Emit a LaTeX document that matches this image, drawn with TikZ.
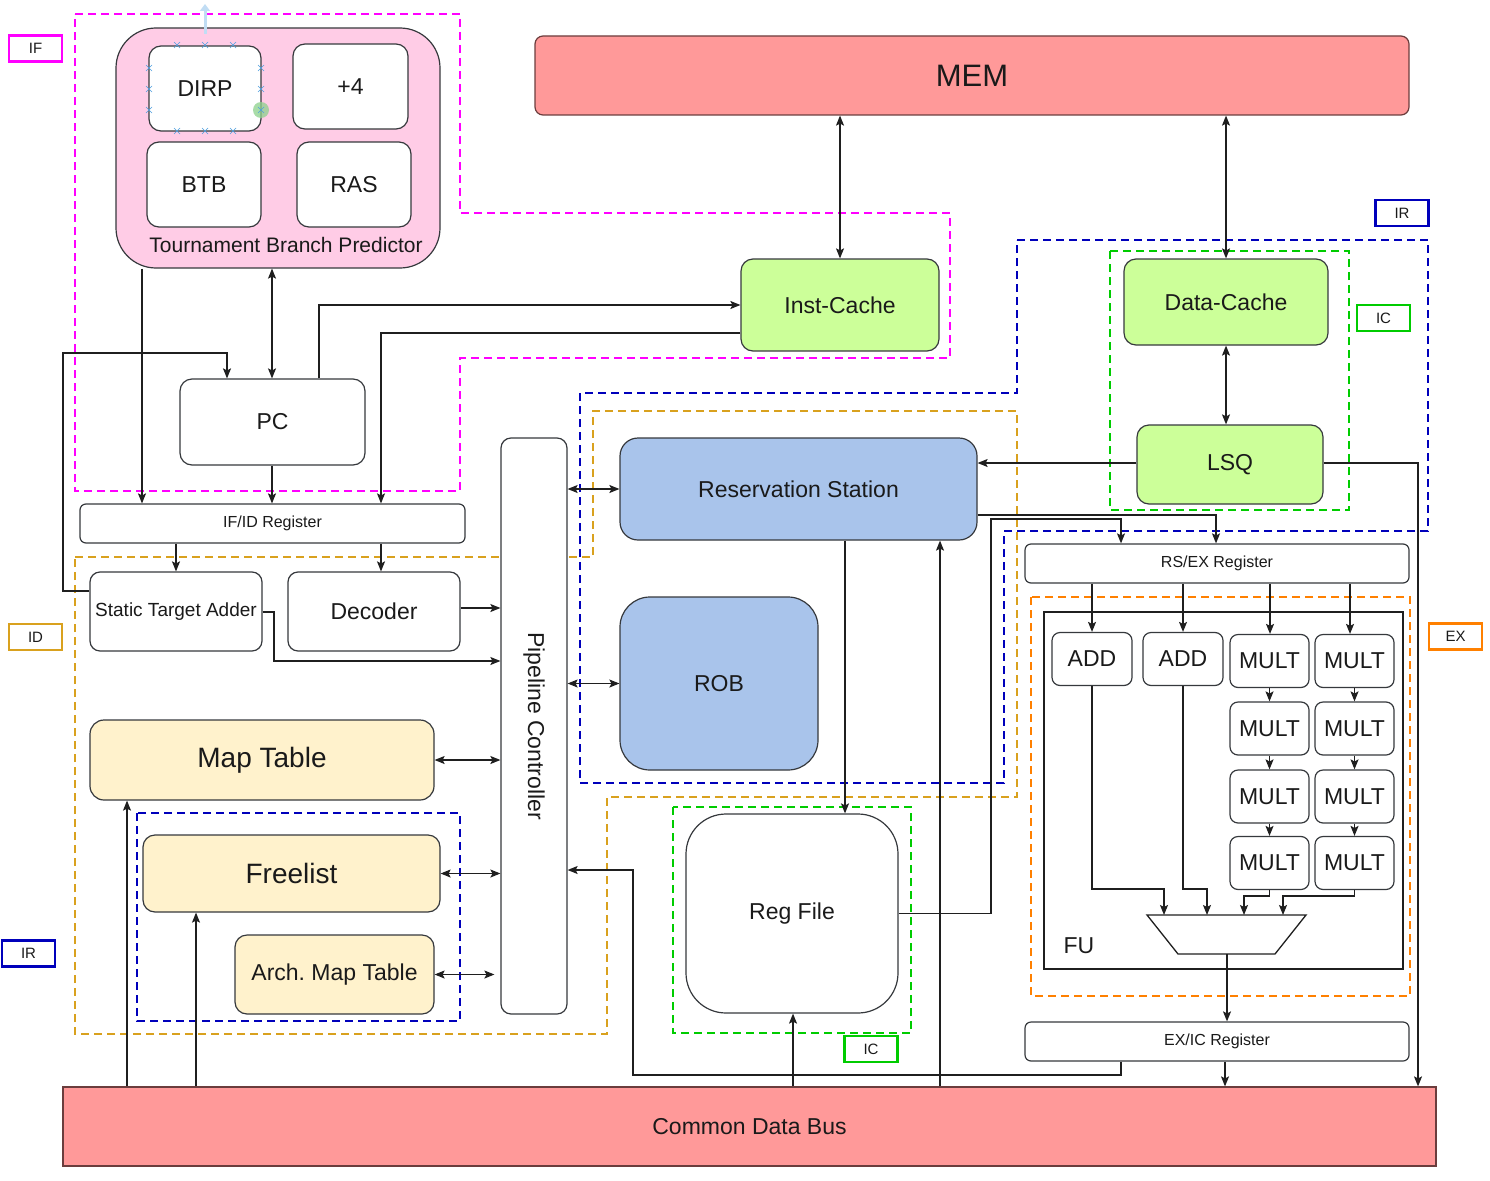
\documentclass[tikz,border=0pt]{standalone}
\usepackage{fontspec}
\setmainfont{Liberation Sans}
\usetikzlibrary{arrows.meta}

\definecolor{txt}{HTML}{1A1A1A}
\definecolor{boxline}{HTML}{36393D}
\definecolor{wirec}{HTML}{1F1F1F}
\definecolor{salmon}{HTML}{FF9999}
\definecolor{salmonline}{HTML}{6B3D3D}
\definecolor{pinkf}{HTML}{FFCCE6}
\definecolor{greenf}{HTML}{CCFF99}
\definecolor{bluef}{HTML}{A9C4EB}
\definecolor{yellowf}{HTML}{FFF2CC}
\definecolor{ifcol}{HTML}{FF00FF}
\definecolor{idcol}{HTML}{D9A11E}
\definecolor{ircol}{HTML}{0000BB}
\definecolor{iccol}{HTML}{00CC00}
\definecolor{excol}{HTML}{FF8000}
\definecolor{selblue}{HTML}{4D9FE0}

\newcommand\fsz[1]{\fontsize{#1}{#1}\selectfont}

\begin{document}
\begin{tikzpicture}[x=1pt,y=-1pt,
  >={Stealth[length=10pt,width=8pt,inset=2pt]},
  blk/.style={draw=boxline, line width=1.2pt, fill=white, inner sep=0pt,
    rounded corners=#1, font=\fsz{23}, text=txt},
  blk/.default=10pt,
  txtonly/.style={inner sep=0pt, font=\fsz{23}, text=txt},
  unit/.style={blk=8pt, minimum height=53pt},
  stagetag/.style={draw=#1, line width=2.5pt, fill=white, minimum width=53pt,
    minimum height=26pt, inner sep=0pt, font=\fsz{15}, text=txt},
  region/.style={draw=#1, line width=2.5pt, dash pattern=on 8pt off 5pt},
  wire/.style={draw=wirec, line width=1.2pt},
  arr/.style={wire, ->},
  darr/.style={wire, <->},
]
\useasboundingbox (0,0) rectangle (1490,1180);

% ---------- pipeline stage regions ----------
\draw[region=ifcol] (75,14) -- (460,14) -- (460,213) -- (950,213) -- (950,358)
  -- (460,358) -- (460,491) -- (75,491) -- cycle;
\draw[region=idcol] (75,557) -- (593,557) -- (593,411) -- (1017,411) -- (1017,797)
  -- (607,797) -- (607,1034) -- (75,1034) -- cycle;
\draw[region=ircol] (1017,240) -- (1428,240) -- (1428,531) -- (1004,531) -- (1004,783)
  -- (580,783) -- (580,393) -- (1017,393) -- cycle;
\draw[region=ircol] (137,813) rectangle (460,1021);
\draw[region=iccol] (1110,251) rectangle (1349,510);
\draw[region=iccol] (673,807) rectangle (911,1033);
\draw[region=excol] (1031,597) rectangle (1410,996);

% ---------- stage tags ----------
\node[stagetag=ifcol] (tagif) at (35.5,48.5) {IF};
\node[stagetag=idcol] (tagid) at (35.5,637) {ID};
\node[stagetag=ircol] (tagirl) at (28.5,953.5) {IR};
\node[stagetag=ircol] (tagirr) at (1402,213) {IR};
\node[stagetag=iccol] (tagicr) at (1383.5,318) {IC};
\node[stagetag=iccol] (tagicb) at (871,1049) {IC};
\node[stagetag=excol] (tagex) at (1455.5,636.5) {EX};

% ---------- memory and buses ----------
\node[blk=8pt, fill=salmon, draw=salmonline, minimum width=874pt, minimum height=79pt,
  font=\fsz{31}] (mem) at (972,75.5) {MEM};
\node[blk=0pt, fill=salmon, draw=salmonline, minimum width=1373pt, minimum height=79pt]
  (cdb) at (749.5,1126.5) {Common Data Bus};

% ---------- fetch ----------
\node[blk=40pt, fill=pinkf, minimum width=324pt, minimum height=240pt] (tbp) at (278,148) {};
\node[txtonly, font=\fsz{21}] (tbplabel) at (286,245) {Tournament Branch Predictor};
\node[blk=12pt, minimum width=112pt, minimum height=85pt] (dirp) at (205,88.5) {DIRP};
\node[blk=12pt, minimum width=115pt, minimum height=85pt] (plusfour) at (350.5,86.5) {+4};
\node[blk=12pt, minimum width=114pt, minimum height=85pt] (btb) at (204,184.5) {BTB};
\node[blk=12pt, minimum width=114pt, minimum height=85pt] (ras) at (354,184.5) {RAS};
\node[blk=12pt, minimum width=185pt, minimum height=86pt] (pc) at (272.5,422) {PC};
\node[blk=12pt, fill=greenf, minimum width=198pt, minimum height=92pt] (icache) at (840,305) {Inst-Cache};
\node[blk=6pt, minimum width=385pt, minimum height=39pt, font=\fsz{16}] (ifid) at (272.5,523.5) {IF/ID Register};

% selection handles around DIRP
\draw[line width=3pt, selblue!35, -{Triangle[length=7pt,width=10pt]}] (205,34) -- (205,4);
\fill[green!60!black!45, opacity=0.75] (261,110) circle (8pt);
\foreach \p in {(177,45),(205,45),(233,45),(177,131),(205,131),(233,131),
                (149,68),(149,89),(149,110),(261,68),(261,89),(261,110)}
  \draw[selblue, line width=0.7pt] \p ++(-3,-3) -- ++(6,6) \p ++(-3,3) -- ++(6,-6);

% ---------- decode / rename ----------
\node[blk=10pt, minimum width=172pt, minimum height=79pt, font=\fsz{19}] (sta) at (176,611.5) {Static Target Adder};
\node[blk=10pt, minimum width=172pt, minimum height=79pt] (dec) at (374,611.5) {Decoder};
\node[blk=10pt, minimum width=66pt, minimum height=576pt] (pipe) at (534,726) {};
\node[txtonly, rotate=-90] (pipelabel) at (pipe.center) {Pipeline Controller};
\node[blk=14pt, fill=yellowf, minimum width=344pt, minimum height=80pt, font=\fsz{28}] (map) at (262,760) {Map Table};
\node[blk=12pt, fill=yellowf, minimum width=297pt, minimum height=77pt, font=\fsz{28}] (free) at (291.5,873.5) {Freelist};
\node[blk=12pt, fill=yellowf, minimum width=199pt, minimum height=79pt] (arch) at (334.5,974.5) {Arch.\ Map Table};

% ---------- issue ----------
\node[blk=18pt, fill=bluef, minimum width=357pt, minimum height=102pt] (rs) at (798.5,489) {Reservation Station};
\node[blk=30pt, fill=bluef, minimum width=198pt, minimum height=173pt] (rob) at (719,683.5) {ROB};
\node[blk=40pt, minimum width=212pt, minimum height=199pt] (rf) at (792,913.5) {Reg File};
\node[blk=12pt, fill=greenf, minimum width=204pt, minimum height=86pt] (dcache) at (1226,302) {Data-Cache};
\node[blk=12pt, fill=greenf, minimum width=186pt, minimum height=79pt] (lsq) at (1230,464.5) {LSQ};

% ---------- execute ----------
\node[blk=6pt, minimum width=384pt, minimum height=39pt, font=\fsz{16}] (rsex) at (1217,563.5) {RS/EX Register};
\node[draw=wirec, line width=1.3pt, minimum width=359pt, minimum height=357pt, inner sep=0pt] (fu) at (1223.5,790.5) {};
\node[txtonly] (fulabel) at (1079,946) {FU};
\node[unit, minimum width=80pt] (add1) at (1092,659) {ADD};
\node[unit, minimum width=80pt] (add2) at (1183,659) {ADD};
\foreach \r/\y in {1/661,2/728.5,3/796.5,4/863}{
  \node[unit, minimum width=79pt] (m\r a) at (1269.5,\y) {MULT};
  \node[unit, minimum width=79pt] (m\r b) at (1354.5,\y) {MULT};
}
\draw[wirec, line width=1.3pt, fill=white] (1147,915) -- (1306,915) -- (1275,954) -- (1178,954) -- cycle;
\coordinate (mi1) at (1164,915);
\coordinate (mi2) at (1207,915);
\coordinate (mi3) at (1244,915);
\coordinate (mi4) at (1283,915);
\coordinate (muxout) at (1227,954);
\node[blk=6pt, minimum width=384pt, minimum height=39pt, font=\fsz{16}] (exic) at (1217,1041.5) {EX/IC Register};

% ---------- connectors ----------
\draw[darr] (mem.south -| icache.north) -- (icache.north);
\draw[darr] (mem.south -| dcache.north) -- (dcache.north);
\draw[darr] (dcache.south) -- (lsq.north -| dcache.south);
\draw[arr] (lsq.west |- 0,463) -- (rs.east |- 0,463);
\draw[arr] (lsq.east |- 0,463) -| (cdb.north -| 1418,0);

\draw[darr] (tbp.south -| 272,0) -- (pc.north -| 272,0);
\draw[arr] (tbp.south -| 142,0) -- (ifid.north -| 142,0);
\draw[arr] (pc.south -| 272,0) -- (ifid.north -| 272,0);
\draw[arr] (pc.north -| 319,0) |- (icache.west);
\draw[arr] (icache.west |- 0,333) -| (ifid.north -| 381,0);
\draw[arr] (sta.west |- 0,591) -| (63,353) -| (pc.north -| 227,0);

\draw[arr] (ifid.south -| sta.north) -- (sta.north);
\draw[arr] (ifid.south -| 381,0) -- (dec.north -| 381,0);
\draw[arr] (dec.east |- 0,608) -- (pipe.west |- 0,608);
\draw[arr] (sta.east |- 0,612) -| (274,661) -- (pipe.west |- 0,661);

\draw[darr] (pipe.east |- rs.west) -- (rs.west);
\draw[darr] (pipe.east |- rob.west) -- (rob.west);
\draw[darr] (map.east) -- (pipe.west |- map.east);
\draw[darr] (free.east) -- (pipe.west |- free.east);
\draw[darr] (arch.east) -- ([xshift=-6pt]pipe.west |- arch.east);

\draw[arr] (cdb.north -| 127,0) -- (map.south -| 127,0);
\draw[arr] (cdb.north -| 196,0) -- (free.south -| 196,0);
\draw[arr] (rs.south -| 845,0) -- (rf.north -| 845,0);
\draw[arr] (cdb.north -| 940,0) -- (rs.south -| 940,0);
\draw[arr] (cdb.north -| 793,0) -- (rf.south -| 793,0);

\draw[arr] (rs.east |- 0,515) -| (rsex.north -| 1216,0);
\draw[arr] (rf.east) -| (991,519) -| (rsex.north -| 1121,0);

\draw[arr] (rsex.south -| add1.north) -- (add1.north);
\draw[arr] (rsex.south -| add2.north) -- (add2.north);
\draw[arr] (rsex.south -| 1270,0) -- (m1a.north -| 1270,0);
\draw[arr] (rsex.south -| 1350,0) -- (m1b.north -| 1350,0);
\foreach \a/\b in {1/2,2/3,3/4}{
  \draw[arr] (m\a a.south) -- (m\b a.north);
  \draw[arr] (m\a b.south) -- (m\b b.north);
}
\draw[arr] (add1.south) -- (add1.south |- 0,889) -| (mi1);
\draw[arr] (add2.south) -- (add2.south |- 0,889) -| (mi2);
\draw[arr] (m4a.south) -- (m4a.south |- 0,896) -| (mi3);
\draw[arr] (m4b.south) -- (m4b.south |- 0,896) -| (mi4);
\draw[arr] (muxout) -- (exic.north -| muxout);

\draw[arr] (exic.south -| 1225,0) -- (cdb.north -| 1225,0);
\draw[arr] (exic.south -| 1121,0) |- (633,1075) |- (pipe.east |- 0,870);
\end{tikzpicture}
\end{document}
